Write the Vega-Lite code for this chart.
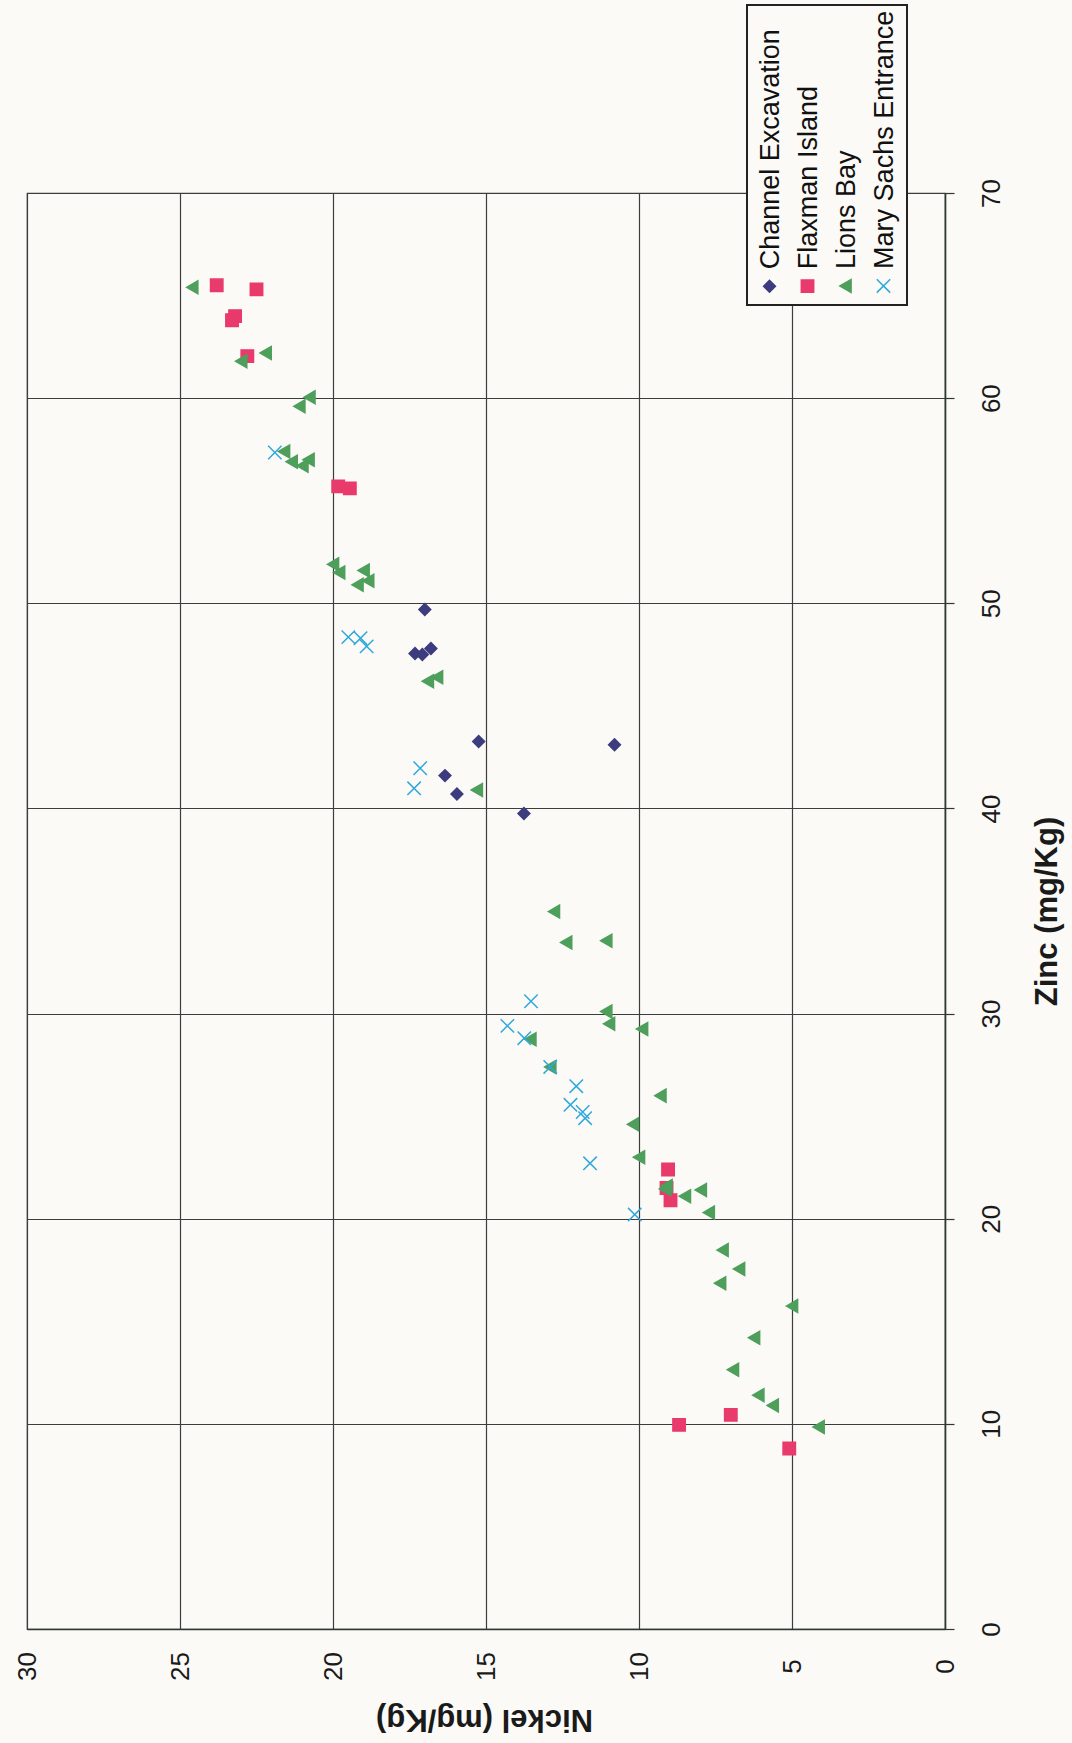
{
  "$schema": "https://vega.github.io/schema/vega-lite/v6.json",
  "width": 918,
  "height": 1436,
  "autosize": {"type": "none"},
  "padding": {"left": 27, "top": 193, "right": 127, "bottom": 114},
  "background": "#fbfaf7",
  "config": {
    "font": "Liberation Sans",
    "view": {"stroke": "#3d3d3d", "strokeWidth": 1.2}
  },
  "data": {
    "values": [
      {"Site": "Channel Excavation", "Nickel": 17.0, "Zinc": 49.7},
      {"Site": "Channel Excavation", "Nickel": 17.32, "Zinc": 47.55},
      {"Site": "Channel Excavation", "Nickel": 17.08, "Zinc": 47.5},
      {"Site": "Channel Excavation", "Nickel": 16.8, "Zinc": 47.8},
      {"Site": "Channel Excavation", "Nickel": 15.24, "Zinc": 43.26},
      {"Site": "Channel Excavation", "Nickel": 10.8, "Zinc": 43.1},
      {"Site": "Channel Excavation", "Nickel": 16.34, "Zinc": 41.6},
      {"Site": "Channel Excavation", "Nickel": 15.95, "Zinc": 40.7},
      {"Site": "Channel Excavation", "Nickel": 13.76, "Zinc": 39.75},
      {"Site": "Flaxman Island", "Nickel": 23.8, "Zinc": 65.5},
      {"Site": "Flaxman Island", "Nickel": 22.5, "Zinc": 65.3},
      {"Site": "Flaxman Island", "Nickel": 23.2, "Zinc": 64.0},
      {"Site": "Flaxman Island", "Nickel": 23.3, "Zinc": 63.8},
      {"Site": "Flaxman Island", "Nickel": 22.8, "Zinc": 62.05},
      {"Site": "Flaxman Island", "Nickel": 19.83, "Zinc": 55.7},
      {"Site": "Flaxman Island", "Nickel": 19.45, "Zinc": 55.6},
      {"Site": "Flaxman Island", "Nickel": 9.05, "Zinc": 22.4},
      {"Site": "Flaxman Island", "Nickel": 9.1, "Zinc": 21.5},
      {"Site": "Flaxman Island", "Nickel": 8.97, "Zinc": 20.9},
      {"Site": "Flaxman Island", "Nickel": 8.69, "Zinc": 9.95},
      {"Site": "Flaxman Island", "Nickel": 7.0, "Zinc": 10.44},
      {"Site": "Flaxman Island", "Nickel": 5.09, "Zinc": 8.8},
      {"Site": "Lions Bay", "Nickel": 24.6, "Zinc": 65.4},
      {"Site": "Lions Bay", "Nickel": 23.0, "Zinc": 61.8},
      {"Site": "Lions Bay", "Nickel": 22.2, "Zinc": 62.2},
      {"Site": "Lions Bay", "Nickel": 20.77, "Zinc": 60.04},
      {"Site": "Lions Bay", "Nickel": 21.1, "Zinc": 59.6},
      {"Site": "Lions Bay", "Nickel": 21.6, "Zinc": 57.4},
      {"Site": "Lions Bay", "Nickel": 21.35, "Zinc": 56.9},
      {"Site": "Lions Bay", "Nickel": 20.8, "Zinc": 57.0},
      {"Site": "Lions Bay", "Nickel": 21.0, "Zinc": 56.7},
      {"Site": "Lions Bay", "Nickel": 20.0, "Zinc": 51.9},
      {"Site": "Lions Bay", "Nickel": 19.8, "Zinc": 51.5},
      {"Site": "Lions Bay", "Nickel": 19.0, "Zinc": 51.6},
      {"Site": "Lions Bay", "Nickel": 18.85, "Zinc": 51.1},
      {"Site": "Lions Bay", "Nickel": 19.2, "Zinc": 50.9},
      {"Site": "Lions Bay", "Nickel": 16.9, "Zinc": 46.2},
      {"Site": "Lions Bay", "Nickel": 16.6, "Zinc": 46.4},
      {"Site": "Lions Bay", "Nickel": 15.3, "Zinc": 40.9},
      {"Site": "Lions Bay", "Nickel": 12.78, "Zinc": 34.97},
      {"Site": "Lions Bay", "Nickel": 12.38, "Zinc": 33.47},
      {"Site": "Lions Bay", "Nickel": 11.07, "Zinc": 33.55},
      {"Site": "Lions Bay", "Nickel": 11.07, "Zinc": 30.1},
      {"Site": "Lions Bay", "Nickel": 10.98, "Zinc": 29.5},
      {"Site": "Lions Bay", "Nickel": 9.9, "Zinc": 29.25},
      {"Site": "Lions Bay", "Nickel": 13.55, "Zinc": 28.75},
      {"Site": "Lions Bay", "Nickel": 12.9, "Zinc": 27.4},
      {"Site": "Lions Bay", "Nickel": 9.3, "Zinc": 26.0},
      {"Site": "Lions Bay", "Nickel": 10.2, "Zinc": 24.6},
      {"Site": "Lions Bay", "Nickel": 10.0, "Zinc": 23.0},
      {"Site": "Lions Bay", "Nickel": 9.1, "Zinc": 21.6},
      {"Site": "Lions Bay", "Nickel": 9.15, "Zinc": 21.45},
      {"Site": "Lions Bay", "Nickel": 8.5, "Zinc": 21.1},
      {"Site": "Lions Bay", "Nickel": 7.98, "Zinc": 21.4},
      {"Site": "Lions Bay", "Nickel": 7.72, "Zinc": 20.3},
      {"Site": "Lions Bay", "Nickel": 7.27, "Zinc": 18.47},
      {"Site": "Lions Bay", "Nickel": 6.73, "Zinc": 17.55},
      {"Site": "Lions Bay", "Nickel": 7.35, "Zinc": 16.86},
      {"Site": "Lions Bay", "Nickel": 5.0, "Zinc": 15.74},
      {"Site": "Lions Bay", "Nickel": 6.24, "Zinc": 14.2},
      {"Site": "Lions Bay", "Nickel": 6.93, "Zinc": 12.64},
      {"Site": "Lions Bay", "Nickel": 6.1, "Zinc": 11.4},
      {"Site": "Lions Bay", "Nickel": 5.63, "Zinc": 10.9},
      {"Site": "Lions Bay", "Nickel": 4.13, "Zinc": 9.85},
      {"Site": "Mary Sachs Entrance", "Nickel": 21.9, "Zinc": 57.35},
      {"Site": "Mary Sachs Entrance", "Nickel": 19.5, "Zinc": 48.35},
      {"Site": "Mary Sachs Entrance", "Nickel": 19.1, "Zinc": 48.3},
      {"Site": "Mary Sachs Entrance", "Nickel": 18.9, "Zinc": 47.9},
      {"Site": "Mary Sachs Entrance", "Nickel": 17.15, "Zinc": 41.96},
      {"Site": "Mary Sachs Entrance", "Nickel": 17.35, "Zinc": 40.98},
      {"Site": "Mary Sachs Entrance", "Nickel": 13.53, "Zinc": 30.6},
      {"Site": "Mary Sachs Entrance", "Nickel": 14.3, "Zinc": 29.4},
      {"Site": "Mary Sachs Entrance", "Nickel": 13.75, "Zinc": 28.8},
      {"Site": "Mary Sachs Entrance", "Nickel": 12.9, "Zinc": 27.4},
      {"Site": "Mary Sachs Entrance", "Nickel": 12.05, "Zinc": 26.46},
      {"Site": "Mary Sachs Entrance", "Nickel": 12.24, "Zinc": 25.55},
      {"Site": "Mary Sachs Entrance", "Nickel": 11.84, "Zinc": 25.2},
      {"Site": "Mary Sachs Entrance", "Nickel": 11.76, "Zinc": 24.9},
      {"Site": "Mary Sachs Entrance", "Nickel": 11.6, "Zinc": 22.7},
      {"Site": "Mary Sachs Entrance", "Nickel": 10.14, "Zinc": 20.2}
    ]
  },
  "mark": {"type": "point", "filled": true, "strokeWidth": 1.5, "opacity": 1},
  "encoding": {
    "x": {
      "field": "Nickel",
      "type": "quantitative",
      "scale": {"domain": [0, 30], "reverse": true, "nice": false},
      "axis": {
        "values": [0, 5, 10, 15, 20, 25, 30],
        "title": "Nickel (mg/Kg)",
        "grid": true,
        "gridColor": "#3d3d3d",
        "gridWidth": 1.2,
        "domainColor": "#2d3a32",
        "domainWidth": 1.5,
        "ticks": false,
        "tickSize": 0,
        "labelAngle": 270,
        "labelAlign": "center",
        "labelBaseline": "middle",
        "labelPadding": 37,
        "labelFontSize": 26,
        "labelColor": "#1a1a1a",
        "labelFlush": false,
        "labelOverlap": false,
        "titleFontSize": 31,
        "titleFontWeight": "bold",
        "titleColor": "#1a1a1a",
        "titleAngle": 180,
        "titleAlign": "center",
        "titleBaseline": "middle",
        "titleX": 457,
        "titleY": 89
      }
    },
    "y": {
      "field": "Zinc",
      "type": "quantitative",
      "scale": {"domain": [0, 70], "nice": false},
      "axis": {
        "orient": "right",
        "values": [0, 10, 20, 30, 40, 50, 60, 70],
        "title": "Zinc (mg/Kg)",
        "grid": true,
        "gridColor": "#3d3d3d",
        "gridWidth": 1.2,
        "domainColor": "#2d3a32",
        "domainWidth": 1.5,
        "tickColor": "#2d3a32",
        "tickWidth": 1.2,
        "tickSize": 9,
        "labelAngle": 270,
        "labelAlign": "center",
        "labelBaseline": "middle",
        "labelPadding": 37,
        "labelFontSize": 26,
        "labelColor": "#1a1a1a",
        "labelFlush": false,
        "labelOverlap": false,
        "titleFontSize": 31,
        "titleFontWeight": "bold",
        "titleColor": "#1a1a1a",
        "titleAngle": 270,
        "titleAlign": "center",
        "titleBaseline": "middle",
        "titleX": 102,
        "titleY": 718
      }
    },
    "color": {
      "field": "Site",
      "type": "nominal",
      "scale": {
        "domain": ["Channel Excavation", "Flaxman Island", "Lions Bay", "Mary Sachs Entrance"],
        "range": ["#3c3c7e", "#e93a6c", "#4e9f5b", "#2ea8dd"]
      },
      "legend": {
        "title": " ",
        "titleFontSize": 10,
        "titlePadding": 248,
        "orient": "none",
        "legendX": 720,
        "legendY": -188,
        "direction": "horizontal",
        "columns": 4,
        "labelFontSize": 27,
        "labelColor": "#111111",
        "labelLimit": 400,
        "labelOffset": -12,
        "strokeColor": "#222222",
        "fillColor": "#fbfaf7",
        "padding": 9,
        "columnPadding": 10,
        "symbolStrokeWidth": 1.5,
        "encoding": {
          "legend": {
            "strokeWidth": {"value": 2}
          },
          "labels": {
            "angle": {"value": 270},
            "dx": {"value": 17},
            "align": {"value": "left"},
            "baseline": {"value": "middle"}
          }
        }
      }
    },
    "stroke": {
      "field": "Site",
      "type": "nominal",
      "scale": {
        "domain": ["Channel Excavation", "Flaxman Island", "Lions Bay", "Mary Sachs Entrance"],
        "range": ["#3c3c7e", "#e93a6c", "#4e9f5b", "#2ea8dd"]
      }
    },
    "shape": {
      "field": "Site",
      "type": "nominal",
      "scale": {
        "domain": ["Channel Excavation", "Flaxman Island", "Lions Bay", "Mary Sachs Entrance"],
        "range": ["diamond", "square", "triangle-left", "M-1,-1L1,1M1,-1L-1,1"]
      }
    },
    "size": {
      "field": "Site",
      "type": "nominal",
      "scale": {
        "domain": ["Channel Excavation", "Flaxman Island", "Lions Bay", "Mary Sachs Entrance"],
        "range": [140, 180, 180, 150]
      }
    }
  }
}
